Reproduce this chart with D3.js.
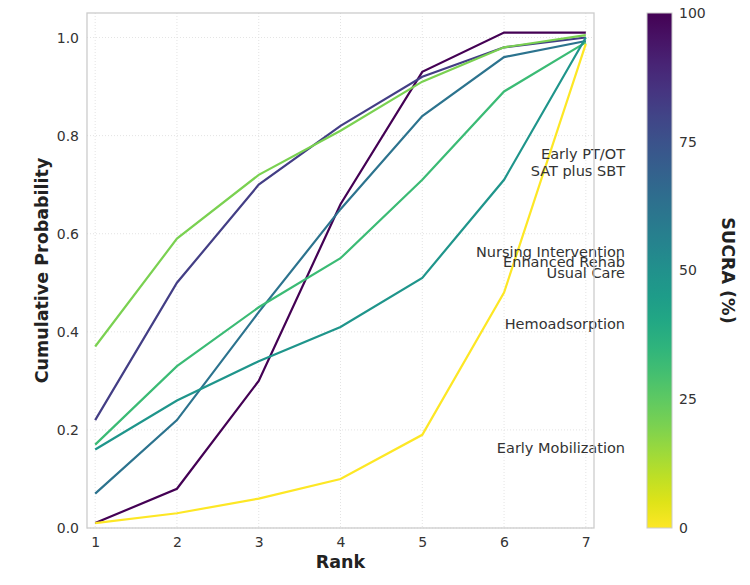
<!DOCTYPE html>
<html>
<head>
<meta charset="utf-8">
<script src="https://cdn.jsdelivr.net/npm/d3@7"></script>
<style>
  body { margin: 0; background: #fff; }
  text { font-family: "DejaVu Sans", sans-serif; }
</style>
</head>
<body>
<svg id="chart"></svg>
<script>
// ranks on the x axis
const ranks = [1, 2, 3, 4, 5, 6, 7];

// cumulative probability per treatment, with a SUCRA value used for colour
const sucra = [100, 82, 20, 62, 32, 48, 0];
const cumProb = [
  [0.01, 0.08, 0.30, 0.66, 0.93, 1.01, 1.01],
  [0.22, 0.50, 0.70, 0.82, 0.92, 0.98, 1.00],
  [0.37, 0.59, 0.72, 0.81, 0.91, 0.98, 1.005],
  [0.07, 0.22, 0.44, 0.65, 0.84, 0.96, 0.993],
  [0.17, 0.33, 0.45, 0.55, 0.71, 0.89, 0.99],
  [0.16, 0.26, 0.34, 0.41, 0.51, 0.71, 1.00],
  [0.01, 0.03, 0.06, 0.10, 0.19, 0.48, 0.987]
];

// treatment labels and the y value where each is written
const labelNames = ['Early PT/OT', 'SAT plus SBT', 'Nursing Intervention', 'Enhanced Rehab',
  'Usual Care', 'Hemoadsorption', 'Early Mobilization'];
const labelY = [0.763, 0.729, 0.563, 0.543, 0.521, 0.417, 0.163];

const yTicks = [0, 0.2, 0.4, 0.6, 0.8, 1.0];
const cbTicks = [0, 25, 50, 75, 100];

const width = 750, height = 585;
const margin = { top: 13, right: 156, bottom: 57, left: 87 };
const plotW = width - margin.left - margin.right;
const plotH = height - margin.top - margin.bottom;

const svg = d3.select('#chart').attr('width', width).attr('height', height);
const g = svg.append('g').attr('transform', `translate(${margin.left},${margin.top})`);

const x = d3.scaleLinear().domain([0.9, 7.1]).range([0, plotW]);
const y = d3.scaleLinear().domain([0, 1.05]).range([plotH, 0]);
const color = d3.scaleSequential(d3.interpolateViridis).domain([100, 0]);

// grid
g.selectAll('.gx').data(ranks).join('line')
  .attr('x1', d => x(d)).attr('x2', d => x(d))
  .attr('y1', 0).attr('y2', plotH)
  .attr('stroke', '#dcdcdc').attr('stroke-width', 0.8).attr('stroke-dasharray', '1,2');
g.selectAll('.gy').data(yTicks).join('line')
  .attr('x1', 0).attr('x2', plotW)
  .attr('y1', d => y(d)).attr('y2', d => y(d))
  .attr('stroke', '#dcdcdc').attr('stroke-width', 0.8).attr('stroke-dasharray', '1,2');

// axes
const xAxis = d3.axisBottom(x).tickValues(ranks).tickSize(0).tickPadding(9).tickFormat(d3.format('d'));
const yAxis = d3.axisLeft(y).tickValues(yTicks).tickSize(0).tickPadding(8).tickFormat(d3.format('.1f'));

g.append('g').attr('transform', `translate(0,${plotH})`).call(xAxis)
  .call(a => a.select('.domain').remove())
  .selectAll('text').attr('font-size', 14).attr('fill', '#333');
g.append('g').call(yAxis)
  .call(a => a.select('.domain').remove())
  .selectAll('text').attr('font-size', 14).attr('fill', '#333');

// lines
const line = d3.line().x((d, i) => x(ranks[i])).y(d => y(d));
g.selectAll('.series').data(cumProb).join('path')
  .attr('class', 'series')
  .attr('d', line)
  .attr('fill', 'none')
  .attr('stroke', (d, i) => color(sucra[i]))
  .attr('stroke-width', 2.2);

// treatment labels
g.selectAll('.lab').data(labelNames).join('text')
  .attr('x', plotW + 31)
  .attr('y', (d, i) => y(labelY[i]))
  .attr('dy', '0.35em')
  .attr('text-anchor', 'end')
  .attr('font-size', 14.5)
  .attr('fill', '#333')
  .text(d => d);

// frame
g.append('rect').attr('width', plotW).attr('height', plotH)
  .attr('fill', 'none').attr('stroke', '#cccccc').attr('stroke-width', 1.3);

// axis titles
svg.append('text')
  .attr('x', margin.left + plotW / 2).attr('y', 568)
  .attr('text-anchor', 'middle').attr('font-size', 17.5).attr('font-weight', 'bold').attr('fill', '#222')
  .text('Rank');
svg.append('text')
  .attr('transform', `translate(48,${margin.top + plotH / 2}) rotate(-90)`)
  .attr('text-anchor', 'middle').attr('font-size', 17.5).attr('font-weight', 'bold').attr('fill', '#222')
  .text('Cumulative Probability');

// colorbar
const cbX = 647, cbW = 25;
const cbY = d3.scaleLinear().domain([0, 100]).range([margin.top + plotH, margin.top]);
const defs = svg.append('defs');
const grad = defs.append('linearGradient').attr('id', 'cbGrad')
  .attr('x1', 0).attr('y1', 1).attr('x2', 0).attr('y2', 0);
d3.range(0, 101, 5).forEach(v => {
  grad.append('stop').attr('offset', v + '%').attr('stop-color', color(v));
});
svg.append('rect')
  .attr('x', cbX).attr('y', margin.top).attr('width', cbW).attr('height', plotH)
  .attr('fill', 'url(#cbGrad)').attr('stroke', '#cccccc').attr('stroke-width', 1);
svg.append('g').attr('transform', `translate(${cbX + cbW},0)`)
  .call(d3.axisRight(cbY).tickValues(cbTicks).tickSize(0).tickPadding(7))
  .call(a => a.select('.domain').remove())
  .selectAll('text').attr('font-size', 14).attr('fill', '#333');
svg.append('text')
  .attr('transform', `translate(722,${margin.top + plotH / 2}) rotate(90)`)
  .attr('text-anchor', 'middle').attr('font-size', 17.5).attr('font-weight', 'bold').attr('fill', '#222')
  .text('SUCRA (%)');
</script>
</body>
</html>
